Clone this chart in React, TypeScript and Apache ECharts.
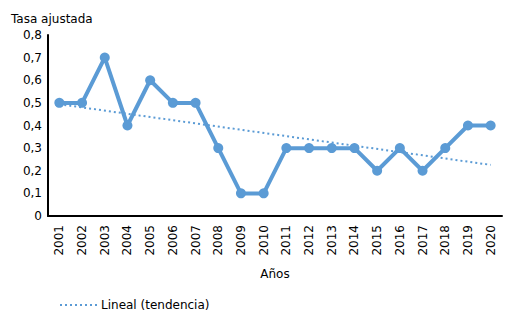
import React, { useEffect, useRef } from "react";
import * as echarts from "echarts";

const years = ["2001","2002","2003","2004","2005","2006","2007","2008","2009","2010","2011","2012","2013","2014","2015","2016","2017","2018","2019","2020"];
const rates = [0.5,0.5,0.7,0.4,0.6,0.5,0.5,0.3,0.1,0.1,0.3,0.3,0.3,0.3,0.2,0.3,0.2,0.3,0.4,0.4];
const trendStart = 0.494;
const trendEnd = 0.226;
const trendName = "Lineal (tendencia)";
const yTitle = "Tasa ajustada";
const xTitle = "Años";

export default function App() {
  const ref = useRef<HTMLDivElement>(null);
  useEffect(() => {
    if (!ref.current) return;
    const chart = echarts.init(ref.current, undefined, { renderer: "svg" });
    const trendData = years.map((_, i) => (i === 0 ? trendStart : i === years.length - 1 ? trendEnd : null));
    const font = "DejaVu Sans, Verdana, sans-serif";
    const blue = "#5B9BD5";
    chart.setOption({
      animation: false,
      textStyle: { fontFamily: font, color: "#000" },
      title: {
        text: yTitle,
        left: 6,
        top: 8,
        textStyle: { fontFamily: font, fontSize: 12, fontWeight: "normal", color: "#000" },
      },
      legend: {
        data: [{ name: trendName, itemStyle: { opacity: 0 } }],
        left: 54,
        top: 294,
        itemWidth: 40,
        itemHeight: 10,
        itemGap: 2,
        textStyle: { fontFamily: font, fontSize: 12, color: "#000", padding: [0, 0, 0, -4] },
      },
      grid: { left: 48, right: 9, top: 35, bottom: 105, containLabel: false },
      xAxis: {
        type: "category",
        data: years,
        boundaryGap: true,
        name: xTitle,
        nameLocation: "middle",
        nameGap: 52,
        nameTextStyle: { fontFamily: font, fontSize: 12, color: "#000" },
        axisLine: { lineStyle: { color: "#000", width: 2 } },
        axisTick: { show: false },
        axisLabel: { rotate: 90, margin: 9, fontFamily: font, fontSize: 12, color: "#000" },
      },
      yAxis: {
        type: "value",
        min: 0,
        max: 0.8,
        interval: 0.1,
        axisLine: { show: true, lineStyle: { color: "#000", width: 2 } },
        axisTick: { show: false },
        splitLine: { show: false },
        axisLabel: {
          margin: 6,
          fontFamily: font,
          fontSize: 12,
          color: "#000",
          formatter: (v: number) => (v === 0 ? "0" : v.toFixed(1).replace(".", ",")),
        },
      },
      series: [
        {
          name: yTitle,
          type: "line",
          data: rates,
          symbol: "circle",
          symbolSize: 10,
          lineStyle: { color: blue, width: 4 },
          itemStyle: { color: blue },
          z: 3,
        },
        {
          name: trendName,
          type: "line",
          data: trendData,
          connectNulls: true,
          symbol: "none",
          lineStyle: { color: blue, width: 2, type: [2, 3] },
          itemStyle: { color: blue },
          z: 2,
        },
      ],
    });
    return () => chart.dispose();
  }, []);
  return <div ref={ref} style={{ width: 511, height: 321, position: "absolute", left: 0, top: 0 }} />;
}
